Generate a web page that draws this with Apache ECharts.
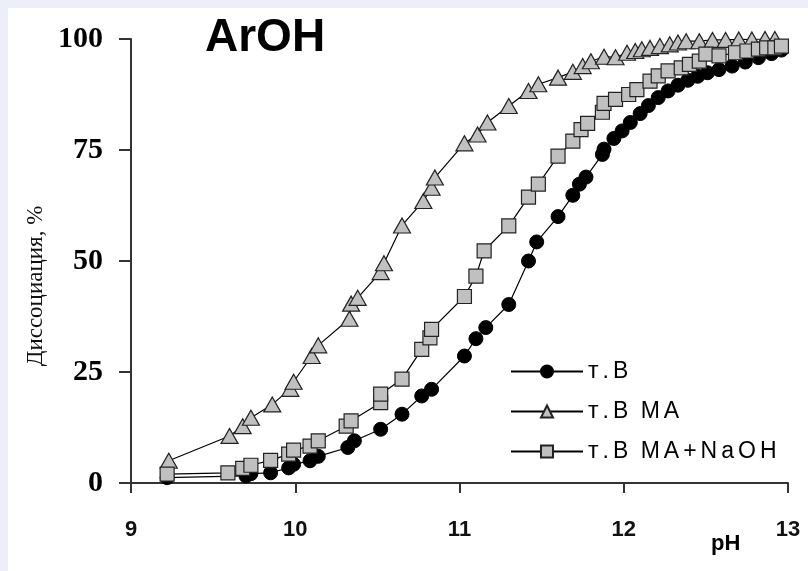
<!DOCTYPE html>
<html>
<head>
<meta charset="utf-8">
<script src="https://cdn.jsdelivr.net/npm/echarts@6/dist/echarts.min.js"></script>
<style>
html,body{margin:0;padding:0;background:#fff;}
#chart{width:808px;height:571px;}
</style>
</head>
<body>
<div id="chart"></div>
<script>
// Series names
const seriesNames = ['т.В', 'т.В МА', 'т.В МА+NaOH'];

// т.В (black circles)
const phB = [9.22,9.70,9.73,9.85,9.96,9.99,10.09,10.14,10.32,10.36,10.52,10.65,10.77,10.83,11.03,11.10,11.16,11.30,11.42,11.47,11.60,11.69,11.73,11.77,11.87,11.88,11.94,11.99,12.04,12.10,12.15,12.21,12.27,12.33,12.39,12.45,12.51,12.58,12.66,12.74,12.82,12.90,12.96];
const dissB = [1.2,1.6,2.1,2.3,3.4,4.2,5.0,6.0,8.0,9.5,12.1,15.5,19.6,21.1,28.6,32.5,35.0,40.2,50.0,54.3,60.0,64.8,67.3,68.9,74.0,75.2,77.6,79.3,81.2,83.2,85.0,86.8,88.3,89.6,90.7,91.6,92.4,93.1,93.9,94.8,95.8,96.7,97.5];

// т.В МА (grey triangles)
const phMA = [9.23,9.60,9.68,9.73,9.86,9.97,9.99,10.10,10.14,10.33,10.34,10.38,10.52,10.54,10.65,10.78,10.83,10.85,11.03,11.11,11.17,11.30,11.42,11.48,11.60,11.69,11.75,11.80,11.88,11.95,12.02,12.07,12.11,12.16,12.22,12.28,12.33,12.38,12.46,12.54,12.62,12.70,12.78,12.86,12.92];
const dissMA = [5.0,10.6,12.8,14.7,17.7,21.2,22.8,28.6,31.0,37.0,40.4,41.7,47.5,49.5,58.0,63.5,66.5,68.8,76.5,78.5,81.2,84.9,88.3,89.8,91.3,92.6,93.9,95.0,96.0,95.9,96.9,97.3,97.7,98.0,98.4,98.8,99.2,99.5,99.5,99.8,99.8,99.9,99.9,100,100];

// т.В МА+NaOH (grey squares)
const phNa = [9.22,9.59,9.68,9.73,9.85,9.96,9.99,10.09,10.14,10.31,10.34,10.52,10.52,10.65,10.77,10.82,10.83,11.03,11.10,11.15,11.30,11.42,11.48,11.60,11.69,11.74,11.78,11.87,11.88,11.95,12.03,12.08,12.16,12.21,12.27,12.35,12.40,12.46,12.50,12.58,12.68,12.75,12.82,12.87,12.92,12.96];
const dissNa = [2.0,2.3,3.3,4.0,5.1,6.5,7.4,8.3,9.5,12.8,14.0,18.1,20.0,23.4,30.1,32.7,34.6,42.0,46.6,52.3,57.9,64.4,67.3,73.6,77.0,79.6,81.0,83.5,85.5,86.4,87.5,88.6,90.5,91.7,92.8,93.5,94.3,95.0,96.6,96.2,96.9,97.3,97.7,98.0,98.0,98.4];

// Axis ticks
const xTicks = [9, 10, 11, 12, 13];
const yTicks = [0, 25, 50, 75, 100];

function pairs(xs, ys) { return xs.map((x, i) => [x, ys[i]]); }

const chart = echarts.init(document.getElementById('chart'), null, {renderer: 'canvas'});
const option = {
  animation: false,
  backgroundColor: '#eceffa',
  graphic: [
    {type: 'rect', shape: {x: 8, y: 8, width: 800, height: 563}, style: {fill: '#ffffff'}, z: -10},
    {type: 'text', left: 205, top: 15, style: {text: 'ArOH', font: 'bold 46px "Liberation Sans", Arial, sans-serif', fill: '#000'}},
    {type: 'text', left: 711, top: 533, style: {text: 'pH', font: 'bold 22px "Liberation Sans", Arial, sans-serif', fill: '#000'}}
  ],
  grid: {left: 131, right: 20, top: 39, bottom: 88, containLabel: false},
  legend: {
    orient: 'vertical',
    left: 505,
    top: 355,
    itemWidth: 72,
    itemHeight: 15,
    itemGap: 17,
    formatter: name => name.split('').map(c => c === ' ' ? '{s| }' : '{c|' + c + '}').join(''),
    textStyle: {
      fontFamily: '"Liberation Sans", Arial, sans-serif', fontSize: 23, color: '#000',
      rich: {
        c: {fontFamily: '"Liberation Sans", Arial, sans-serif', fontSize: 23, color: '#000', padding: [0, 4, 0, 0]},
        s: {fontFamily: '"Liberation Sans", Arial, sans-serif', fontSize: 23, color: '#000', padding: [0, 2, 0, 0]}
      }
    },
    data: seriesNames
  },
  xAxis: {
    type: 'value', min: 9, max: 13, interval: 1,
    axisLine: {show: true, onZero: false, lineStyle: {color: '#333', width: 2}},
    axisTick: {show: true, inside: false, length: 10, lineStyle: {color: '#333', width: 2}},
    axisLabel: {margin: 36, fontFamily: '"Liberation Sans", Arial, sans-serif', fontWeight: 'bold', fontSize: 22, color: '#111',
      formatter: v => xTicks.includes(v) ? String(v) : ''},
    splitLine: {show: false}
  },
  yAxis: {
    type: 'value', min: 0, max: 100, interval: 25,
    name: 'Диссоциация, %',
    nameLocation: 'middle',
    nameGap: 83,
    nameRotate: 90,
    nameTextStyle: {fontFamily: '"Liberation Serif", "Times New Roman", serif', fontSize: 23, color: '#111', padding: [0, 50, 0, 0]},
    axisLine: {show: true, onZero: false, lineStyle: {color: '#333', width: 2}},
    axisTick: {show: true, inside: false, length: 12, lineStyle: {color: '#333', width: 2}},
    axisLabel: {margin: 28, fontFamily: '"Liberation Serif", "Times New Roman", serif', fontWeight: 'bold', fontSize: 30, color: '#000',
      formatter: v => yTicks.includes(v) ? String(v) : ''},
    splitLine: {show: false}
  },
  series: [
    {
      name: seriesNames[0], type: 'line', data: pairs(phB, dissB),
      symbol: 'circle', symbolSize: 14,
      lineStyle: {color: '#000', width: 1.2},
      itemStyle: {color: '#000', borderColor: '#000', borderWidth: 1},
      z: 2
    },
    {
      name: seriesNames[1], type: 'line', data: pairs(phMA, dissMA),
      symbol: 'triangle', symbolSize: [17, 15],
      lineStyle: {color: '#000', width: 1.2},
      itemStyle: {color: '#c0c0c0', borderColor: '#222', borderWidth: 1.2},
      z: 3
    },
    {
      name: seriesNames[2], type: 'line', data: pairs(phNa, dissNa),
      symbol: 'rect', symbolSize: 14,
      lineStyle: {color: '#000', width: 1.2},
      itemStyle: {color: '#c0c0c0', borderColor: '#222', borderWidth: 1.2},
      z: 4
    }
  ]
};
chart.setOption(option);
</script>
</body>
</html>
